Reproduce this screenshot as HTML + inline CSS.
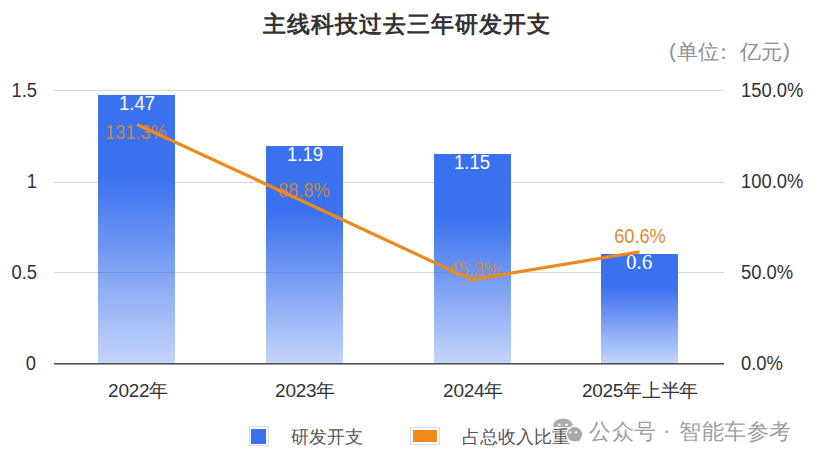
<!DOCTYPE html>
<html><head><meta charset="utf-8">
<style>
html,body{margin:0;padding:0;background:#fff;}
body{width:819px;height:464px;position:relative;overflow:hidden;font-family:"Liberation Sans",sans-serif;}
.t{position:absolute;white-space:nowrap;line-height:1;}
.c{text-align:center;width:120px;}
.r{text-align:right;width:60px;}
.ax{font-size:20px;color:#333;transform:scaleX(0.92);}
.r.ax{transform-origin:right center;}
.ra{transform-origin:left center;}
.xl{font-size:19px;color:#333;letter-spacing:-0.3px;}
.xl b{font-weight:normal;font-size:19px;}
.dl{font-size:20px;color:#fff;transform:scaleX(0.93);}
.pl{font-size:20px;color:#de8a32;transform:scaleX(0.91);}
.uw{position:absolute;line-height:1;font-size:21px;color:#8d9096;white-space:nowrap;}
.wm{position:absolute;line-height:1;font-size:22px;color:#9e9e9e;white-space:nowrap;font-weight:normal;letter-spacing:0.6px;}
</style></head><body>
<div class="t" id="title" style="left:263px;top:13px;font-size:23px;letter-spacing:1px;font-weight:bold;color:#333;">主线科技过去三年研发开支</div>

<span class="uw" style="left:669px;top:40px;">(</span>
<span class="uw" style="left:677px;top:41px;">单位</span>
<span class="uw" style="left:713px;top:41px;">：</span>
<span class="uw" style="left:740px;top:41px;">亿元</span>
<span class="uw" style="left:783px;top:40px;">)</span>

<svg width="819" height="464" style="position:absolute;left:0;top:0">
  <defs>
    <linearGradient id="bg" x1="0" y1="0" x2="0" y2="1">
      <stop offset="0" stop-color="#3a71ee" stop-opacity="1"/>
      <stop offset="0.3" stop-color="#3a71ee" stop-opacity="1"/>
      <stop offset="1" stop-color="#3a71ee" stop-opacity="0.3"/>
    </linearGradient>
  </defs>
  <g stroke="#d6d6d6" stroke-width="1">
    <line x1="54" y1="90.5" x2="724" y2="90.5"/>
    <line x1="54" y1="182.5" x2="724" y2="182.5"/>
    <line x1="54" y1="272.5" x2="724" y2="272.5"/>
  </g>
  <rect x="98" y="95" width="77" height="268" fill="url(#bg)"/>
  <rect x="266" y="146" width="77" height="217" fill="url(#bg)"/>
  <rect x="434" y="154" width="77" height="209" fill="url(#bg)"/>
  <rect x="601" y="254" width="77" height="109" fill="url(#bg)"/>
  <line x1="54" y1="363.5" x2="724" y2="363.5" stroke="#4c4c4c" stroke-width="1"/><line x1="54" y1="364.5" x2="724" y2="364.5" stroke="#9c9c9c" stroke-width="1"/>
</svg>

<div class="t r ax" style="left:-23px;top:80px;">1.5</div>
<div class="t r ax" style="left:-23px;top:171px;">1</div>
<div class="t r ax" style="left:-23px;top:262px;">0.5</div>
<div class="t r ax" style="left:-24px;top:353px;">0</div>

<div class="t ax ra" style="left:741px;top:80px;">150.0%</div>
<div class="t ax ra" style="left:741px;top:171px;">100.0%</div>
<div class="t ax ra" style="left:741px;top:262px;">50.0%</div>
<div class="t ax ra" style="left:741px;top:353px;">0.0%</div>

<div class="t c xl" style="left:78px;top:381px;">2022<b>年</b></div>
<div class="t c xl" style="left:245px;top:381px;">2023<b>年</b></div>
<div class="t c xl" style="left:413px;top:381px;">2024<b>年</b></div>
<div class="t c xl" style="left:560px;top:381px;width:160px;">2025<b>年上半年</b></div>

<div class="t c dl" style="left:77px;top:93px;">1.47</div>
<div class="t c dl" style="left:245px;top:144px;">1.19</div>
<div class="t c dl" style="left:412px;top:152px;">1.15</div>
<div class="t c dl" style="left:579px;top:252px;font-size:21px;font-family:'Liberation Serif',serif;transform:none;">0.6</div>

<div class="t c pl" style="left:76px;top:122px;opacity:0.85;">131.3%</div>
<div class="t c pl" style="left:244px;top:180px;opacity:0.85;">88.8%</div>
<div class="t c pl" style="left:414px;top:259px;opacity:0.8;">45.3%</div>
<div class="t c pl" style="left:580px;top:226px;">60.6%</div>

<svg width="819" height="464" style="position:absolute;left:0;top:0">
  <polyline points="137,124.5 304.5,202 471.5,279.8 639.5,251.8" fill="none" stroke="#eb8a1d" stroke-width="3.2" stroke-linejoin="round"/>
</svg>

<!-- legend -->
<div style="position:absolute;left:249px;top:426px;width:20px;height:20px;box-sizing:border-box;border:1px solid #d9dbe0;background:#fff;"><div style="position:absolute;left:1px;top:2px;width:15px;height:15px;background:#3a71ee;"></div></div>
<div class="t" style="left:291px;top:428px;font-size:18px;color:#555;">研发开支</div>

<!-- watermark icon -->
<svg width="819" height="464" style="position:absolute;left:0;top:0">
  <g fill="#adadad">
    <ellipse cx="563" cy="425.5" rx="9.8" ry="7"/>
    <path d="M556 430 L554.5 434 L559 431.5 Z"/>
  </g>
  <g fill="#fff">
    <circle cx="559.3" cy="424.8" r="1.3"/>
    <circle cx="566.5" cy="424.8" r="1.3"/>
  </g>
</svg>

<div style="position:absolute;left:410px;top:427px;width:30px;height:18px;box-sizing:border-box;border:1px solid #d9dbe0;padding:2px;background:#fff;"><div style="width:24px;height:12px;background:#f08a17;"></div></div>
<div class="t" style="left:462px;top:428px;font-size:18px;color:#555;">占总收入比<span style="background:rgba(255,255,255,0.85);">重</span></div>

<svg width="819" height="464" style="position:absolute;left:0;top:0">
  <ellipse cx="574.6" cy="434.3" rx="8.8" ry="8.5" fill="#fff"/>
  <g fill="#a9a9a9">
    <ellipse cx="574.6" cy="434.3" rx="7.5" ry="7.3"/>
    <path d="M577 440 L579.5 442.5 L579 438 Z"/>
  </g>
  <g fill="#fff">
    <circle cx="570.2" cy="432.4" r="1.2"/>
    <circle cx="576" cy="432.4" r="1.2"/>
  </g>
</svg>

<span class="wm" style="left:589px;top:421px;">公众号</span>
<span class="wm" style="left:663px;top:420px;">·</span>
<span class="wm" style="left:679px;top:421px;">智能车参考</span>
</body></html>
